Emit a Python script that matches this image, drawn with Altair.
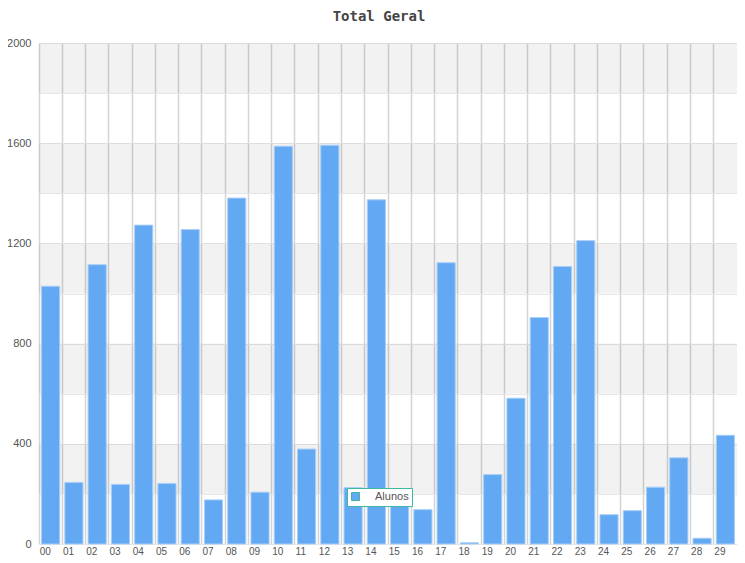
import altair as alt
import pandas as pd

categories = ["00","01","02","03","04","05","06","07","08","09",
              "10","11","12","13","14","15","16","17","18","19",
              "20","21","22","23","24","25","26","27","28","29"]
alunos = [1029, 246, 1115, 238, 1273, 242, 1255, 176, 1381, 207,
          1588, 379, 1592, 225, 1374, 152, 137, 1123, 5, 277,
          582, 904, 1108, 1211, 117, 133, 227, 344, 23, 434]
band_starts = [200, 600, 1000, 1400, 1800]
band_size = 200
series_name = "Alunos"

df = pd.DataFrame({"cat": categories, "v": alunos, "s": series_name})
bands = pd.DataFrame({"y": band_starts, "y2": [b + band_size for b in band_starts]})

W, H = 698, 501
ydomain = [0, 2000]
yticks = list(range(0, 2001, 200))

bg = alt.Chart(bands).mark_rect(color="#000000", opacity=0.05).encode(
    y=alt.Y("y:Q", scale=alt.Scale(domain=ydomain, nice=False)),
    y2="y2:Q",
    x=alt.value(0),
    x2=alt.value(W),
)

bars = alt.Chart(df).mark_bar(stroke="#a9cff7", strokeWidth=1,
                              width={"band": 0.78}).encode(
    x=alt.X("cat:N", sort=categories, title=None,
            scale=alt.Scale(paddingInner=0, paddingOuter=0),
            axis=alt.Axis(labelAngle=0, grid=True, bandPosition=0,
                          gridColor="#d4d4d4", gridWidth=1.5,
                          ticks=False, domain=False, labelPadding=2,
                          labelAlign="left", labelBaseline="top",
                          labelOffset=-11,
                          labelFont="Liberation Sans", labelFontSize=10,
                          labelColor="#555555")),
    y=alt.Y("v:Q", title=None, scale=alt.Scale(domain=ydomain, nice=False),
            axis=alt.Axis(values=yticks, grid=True, gridColor="#e6e6e6",
                          ticks=False, domain=False, labelPadding=8,
                          labelExpr="datum.value % 400 == 0 ? datum.label : ''",
                          format="d",
                          labelFont="Liberation Sans", labelFontSize=11,
                          labelColor="#555555")),
    color=alt.Color("s:N", scale=alt.Scale(domain=[series_name], range=["#62a8f2"]),
                    legend=alt.Legend(title=None, orient="none", legendX=308, legendY=445,
                                      strokeColor="#3fb8a0", fillColor="white",
                                      padding=3, symbolType="square", symbolSize=64,
                                      symbolStrokeColor="#3fb8a0", symbolStrokeWidth=1,
                                      labelFont="Liberation Sans", labelFontSize=11,
                                      labelColor="#555555", cornerRadius=0,
                                      labelOffset=14)),
)

chart = alt.layer(bg, bars).properties(
    width=W, height=H,
    autosize=alt.AutoSizeParams(type="none"),
    padding={"left": 31, "top": 35, "right": 0, "bottom": 11},
    title=alt.TitleParams("Total Geral", font="DejaVu Sans Mono", fontSize=14,
                          fontWeight="bold", color="#444444", anchor="middle",
                          dx=-9, offset=13),
).configure_view(stroke=None)

chart.save("out.html", embed_options={"renderer": "svg", "actions": False})
